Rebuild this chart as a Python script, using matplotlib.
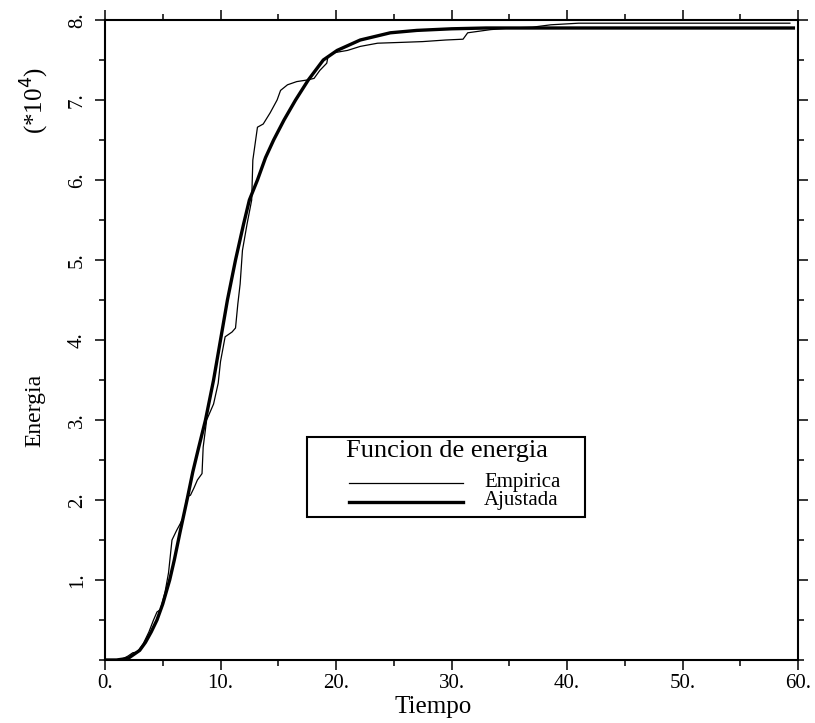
import matplotlib
matplotlib.use("Agg")
import matplotlib.pyplot as plt
from matplotlib.ticker import MultipleLocator, FixedLocator
from matplotlib.patches import Rectangle
from matplotlib.lines import Line2D

plt.rcParams['font.family'] = ['Liberation Serif', 'DejaVu Serif']

# Fitted curve ("Ajustada"), values in units of 1e4
t_fit = [0.0, 1.0, 2.0, 3.0, 3.5, 4.0, 4.5, 5.0, 5.6, 6.0, 6.5, 7.1, 7.6, 8.1, 8.7,
         9.4, 10.0, 10.6, 11.3, 12.0, 12.5, 13.2, 13.9, 14.6, 15.5, 16.5, 17.6,
         18.9, 20.1, 22.1, 24.7, 27.0, 30.0, 33.0, 36.0, 40.0, 45.0, 50.0, 55.0, 59.6]
e_fit = [0.0, 0.0, 0.02, 0.12, 0.22, 0.35, 0.5, 0.7, 1.0, 1.25, 1.6, 2.0, 2.35, 2.65, 3.0,
         3.5, 4.0, 4.5, 5.0, 5.45, 5.75, 6.0, 6.28, 6.5, 6.75, 7.0, 7.25,
         7.5, 7.62, 7.75, 7.84, 7.87, 7.89, 7.9, 7.9, 7.9, 7.9, 7.9, 7.9, 7.9]

# Empirical curve ("Empirica")
t_emp = [0.0, 1.0, 1.6, 2.0, 2.4, 2.8, 3.3, 3.8, 4.2, 4.5, 4.8, 5.2, 5.5, 5.8, 6.2,
         6.5, 6.8, 7.1, 7.4, 7.7, 8.0, 8.4, 8.5, 8.8, 9.1, 9.4, 9.8, 10.0, 10.4,
         11.0, 11.3, 11.5, 11.7, 11.9, 12.3, 12.7, 12.8, 13.2, 13.7, 14.3, 14.9,
         15.2, 15.8, 16.6, 17.5, 18.1, 18.6, 19.2, 19.3, 19.8, 21.0, 22.1, 23.6,
         25.6, 27.5, 29.5, 31.0, 31.4, 33.4, 35.1, 37.0, 38.6, 41.0, 45.0, 50.0,
         55.0, 59.3]
e_emp = [0.0, 0.0, 0.02, 0.05, 0.09, 0.1, 0.2, 0.35, 0.5, 0.6, 0.63, 0.85, 1.09, 1.5, 1.62,
         1.7, 1.79, 2.04, 2.06, 2.15, 2.25, 2.33, 2.66, 3.0, 3.1, 3.2, 3.46, 3.73, 4.04,
         4.1, 4.15, 4.45, 4.7, 5.12, 5.45, 5.75, 6.25, 6.66, 6.7, 6.84, 7.0,
         7.12, 7.19, 7.23, 7.25, 7.27, 7.37, 7.46, 7.54, 7.59, 7.62, 7.67, 7.71,
         7.72, 7.73, 7.75, 7.76, 7.84, 7.88, 7.9, 7.91, 7.94, 7.96, 7.96, 7.96,
         7.96, 7.96]

x_ticks = [0, 10, 20, 30, 40, 50, 60]
x_labels = ["0.", "10.", "20.", "30.", "40.", "50.", "60."]
y_ticks = [1, 2, 3, 4, 5, 6, 7, 8]
y_labels = ["1.", "2.", "3.", "4.", "5.", "6.", "7.", "8."]
legend_title = "Funcion de energia"
series_names = ["Empirica", "Ajustada"]

W, H = 815, 723
fig = plt.figure(figsize=(W / 100, H / 100), dpi=100)
ax = fig.add_axes([105 / W, 63 / H, 693 / W, 640 / H])

ax.plot(t_emp, e_emp, color='black', lw=0.9)
ax.plot(t_fit, e_fit, color='black', lw=2.4)

ax.set_xlim(0, 60)
ax.set_ylim(0, 8)
ax.xaxis.set_major_locator(FixedLocator(x_ticks))
ax.set_xticklabels(x_labels)
ax.xaxis.set_minor_locator(MultipleLocator(5))
ax.yaxis.set_major_locator(FixedLocator(y_ticks))
ax.set_yticklabels(y_labels, rotation=90, va='center')
ax.yaxis.set_minor_locator(MultipleLocator(0.5))

for s in ax.spines.values():
    s.set_linewidth(1.5)
ax.tick_params(which='both', direction='out', top=True, right=True, width=1.1)
ax.tick_params(which='major', length=7, labelsize=15)
ax.tick_params(axis='x', which='major', pad=3)
ax.tick_params(axis='y', which='major', pad=6)
ax.tick_params(which='minor', length=4)

fig.text(433 / W, 1 - 707 / H, "Tiempo", fontsize=18, ha='center', va='center')
fig.text(35 / W, 1 - 410 / H, "Energia", fontsize=17, rotation=90, ha='center', va='center')
fig.text(35 / W, 1 - 100 / H, r"(*10$^{4}$)", fontsize=18, rotation=90, ha='center', va='center')

# Manual legend box (positions from pixel layout, in axes fraction)
def fx(px):
    return (px - 105) / 693

def fy(py):
    return (660 - py) / 640

ax.add_patch(Rectangle((fx(307), fy(517)), fx(585) - fx(307), fy(437) - fy(517),
                       transform=ax.transAxes, facecolor='white', edgecolor='black',
                       linewidth=1.5, zorder=5))
ax.text(fx(447), fy(451), legend_title, transform=ax.transAxes, fontsize=19,
        ha='center', va='center', zorder=6)
for name, py, lw in [(series_names[0], 483, 0.9), (series_names[1], 502, 2.4)]:
    ax.add_line(Line2D([fx(349), fx(463)], [fy(py), fy(py)], transform=ax.transAxes,
                       color='black', lw=lw, zorder=6))
    ax.text(fx(484), fy(py - 1), name, transform=ax.transAxes, fontsize=15,
            ha='left', va='center', zorder=6)

fig.savefig("out.png", dpi=100)
